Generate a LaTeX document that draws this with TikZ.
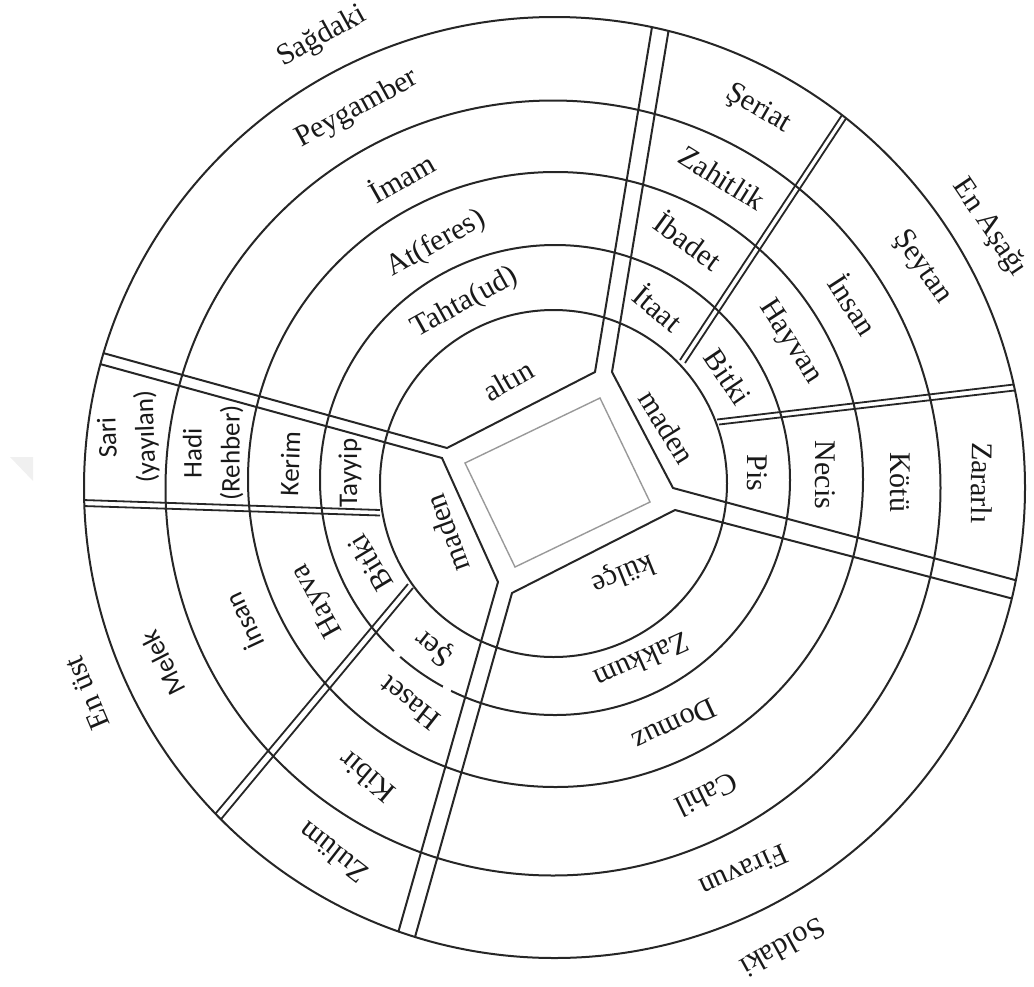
\documentclass[tikz,border=0pt]{standalone}
\usepackage{fontspec}
\setmainfont{Liberation Serif}
\newfontfamily\sansf{Carlito}
\usetikzlibrary{calc}

\tikzset{
  ring/.style={line width=1pt, draw=black!85},
  divider/.style={line width=1pt, draw=black!85, line join=miter},
  thin divider/.style={line width=0.9pt, draw=black!85},
  lab/.style={font=\fontsize{15}{18}\selectfont, inner sep=0pt, text=black!90},
  slab/.style={font=\sansf\fontsize{13.5}{19}\selectfont, inner sep=0pt, align=center, text=black!90},
}

\begin{document}
\begin{tikzpicture}[x=0.5pt,y=-0.5pt]
\useasboundingbox (0,0) rectangle (1034,986);

% faint mark at the left margin
\fill[black!6] (10,457) -- (33,457) -- (33,481) -- cycle;

% concentric rings
\draw[ring] (553.5,483.5) circle[radius=86.75pt];
\draw[ring] (555,480)     circle[radius=117.5pt];
\draw[ring] (555.5,479.5) circle[radius=153.75pt];
\draw[ring] (553,488)     circle[radius=193.75pt];
\draw[ring] (554.5,487.5) circle[radius=235.25pt];

% small breaks in the second ring
\fill[white] (397,654) circle[radius=2.2pt];
\fill[white] (447,688.7) circle[radius=2.4pt];

% corners of the central frame
\coordinate (T1) at (447,448);
\coordinate (T2) at (595,372);
\coordinate (R1) at (612,372);
\coordinate (R2) at (673,488);
\coordinate (B1) at (675,510);
\coordinate (B2) at (512,593);
\coordinate (L1) at (498,582);
\coordinate (L2) at (442,458);
% outer ends of the main dividers
\coordinate (E1a) at (652,27);
\coordinate (E1b) at (669,28);
\coordinate (E2a) at (1015,580);
\coordinate (E2b) at (1010,598);
\coordinate (E3a) at (398,933);
\coordinate (E3b) at (415,937);
\coordinate (E4a) at (103,353);
\coordinate (E4b) at (100,364);

\begin{scope}
  \clip (554.5,487.5) circle[radius=235.25pt];
  % main double dividers joined by the central frame
  \draw[divider] ($(T1)!1.08!(E4a)$) -- (T1) -- (T2) -- ($(T2)!1.08!(E1a)$);
  \draw[divider] ($(R1)!1.08!(E1b)$) -- (R1) -- (R2) -- ($(R2)!1.08!(E2a)$);
  \draw[divider] ($(B1)!1.08!(E2b)$) -- (B1) -- (B2) -- ($(B2)!1.08!(E3b)$);
  \draw[divider] ($(L1)!1.08!(E3a)$) -- (L1) -- (L2) -- ($(L2)!1.08!(E4b)$);
  % narrow double dividers starting at the first ring
  \coordinate (Aa) at (680,360);   \coordinate (Ab) at (685,363);
  \coordinate (Ba) at (717,419.5); \coordinate (Bb) at (719,424.5);
  \coordinate (Ca) at (408,584);   \coordinate (Cb) at (413,588);
  \coordinate (Da) at (380,510);   \coordinate (Db) at (380,515.5);
  \draw[thin divider] (Aa) -- ($(Aa)!1.1!(842,115)$);
  \draw[thin divider] (Ab) -- ($(Ab)!1.1!(847,117)$);
  \draw[thin divider] (Ba) -- ($(Ba)!1.1!(1018,384)$);
  \draw[thin divider] (Bb) -- ($(Bb)!1.1!(1019,390)$);
  \draw[thin divider] (Ca) -- ($(Ca)!1.1!(216,813)$);
  \draw[thin divider] (Cb) -- ($(Cb)!1.1!(222,818)$);
  \draw[thin divider] (Da) -- ($(Da)!1.1!(83,500)$);
  \draw[thin divider] (Db) -- ($(Db)!1.1!(83,506)$);
\end{scope}

% inner frame
\draw[black!40, line width=0.7pt] (465,463) -- (600,398) -- (650,502) -- (515,567) -- cycle;

% upper sector
\node[lab, rotate=29]   (sagdaki) at (322,37)  {Sağdaki};
\node[lab, rotate=28.7] (peyg)    at (357,109) {Peygamber};
\node[lab, rotate=29.5] (imam)    at (401,177) {İmam};
\node[lab, rotate=29.2] (at)      at (436,244) {At(feres)};
\node[lab, rotate=29]   (tahta)   at (465,303) {Tahta(ud)};
\node[lab, rotate=30]   (altin)   at (508,380) {altın};

% right sector
\node[lab, rotate=-30]  (seriat)  at (758,109) {Şeriat};
\node[lab, rotate=-32]  (zahit)   at (722,178) {Zahitlik};
\node[lab, rotate=-36]  (ibadet)  at (689,240) {İbadet};
\node[lab, rotate=-40]  (itaat)   at (659,307) {İtaat};
\node[lab, rotate=-58]  (madenR)  at (667,427) {maden};
\node[lab, rotate=-55]  (seytan)  at (922,267) {Şeytan};
\node[lab, rotate=-57]  (insanR)  at (854,304) {İnsan};
\node[lab, rotate=-57]  (hayvan)  at (790,342) {Hayvan};
\node[lab, rotate=-56]  (bitkiR)  at (728,377) {Bitki};
\node[lab, rotate=-56]  (enasagi) at (989,228) {En Aşağı};
\node[lab, rotate=-90]  (pis)     at (757,473) {Pis};
\node[lab, rotate=-90]  (necis)   at (825,475) {Necis};
\node[lab, rotate=-90]  (kotu)    at (900,482) {Kötü};
\node[lab, rotate=-91]  (zararli) at (982,483) {Zararlı};

% lower sector
\node[lab, rotate=202]  (kulce)   at (623,573) {külçe};
\node[lab, rotate=204]  (zakkum)  at (642,661) {Zakkum};
\node[lab, rotate=205]  (domuz)   at (675,725) {Domuz};
\node[lab, rotate=206]  (cahil)   at (707,795) {Cahil};
\node[lab, rotate=204]  (firavun) at (744,871) {Firavun};
\node[lab, rotate=209]  (soldaki) at (783,948) {Soldaki};

% left sector
\node[lab, rotate=141]  (ser)     at (435,647) {Şer};
\node[lab, rotate=142]  (haset)   at (410,703) {Haset};
\node[lab, rotate=140]  (kibir)   at (367,777) {Kibir};
\node[lab, rotate=142]  (zulum)   at (333,853) {Zulüm};
\node[lab, rotate=121]  (bitkiL)  at (370,563) {Bitki};
\node[lab, rotate=119]  (hayva)   at (318,600) {Hayva};
\node[slab, rotate=115] (insanL)  at (243,622) {İnsan};
\node[slab, rotate=117] (melek)   at (163,663) {Melek};
\node[lab, rotate=113]  (enust)   at (87,693)  {En üst};
\node[lab, rotate=110]  (madenL)  at (447,533) {maden};
\node[slab, rotate=92]  (sari)    at (128,437) {Sari\\(yayılan)};
\node[slab, rotate=90]  (hadi)    at (213,453) {Hadi\\(Rehber)};
\node[slab, rotate=88]  (kerim)   at (290,464) {Kerim};
\node[slab, rotate=90]  (tayyip)  at (350,473) {Tayyip};
\end{tikzpicture}
\end{document}
